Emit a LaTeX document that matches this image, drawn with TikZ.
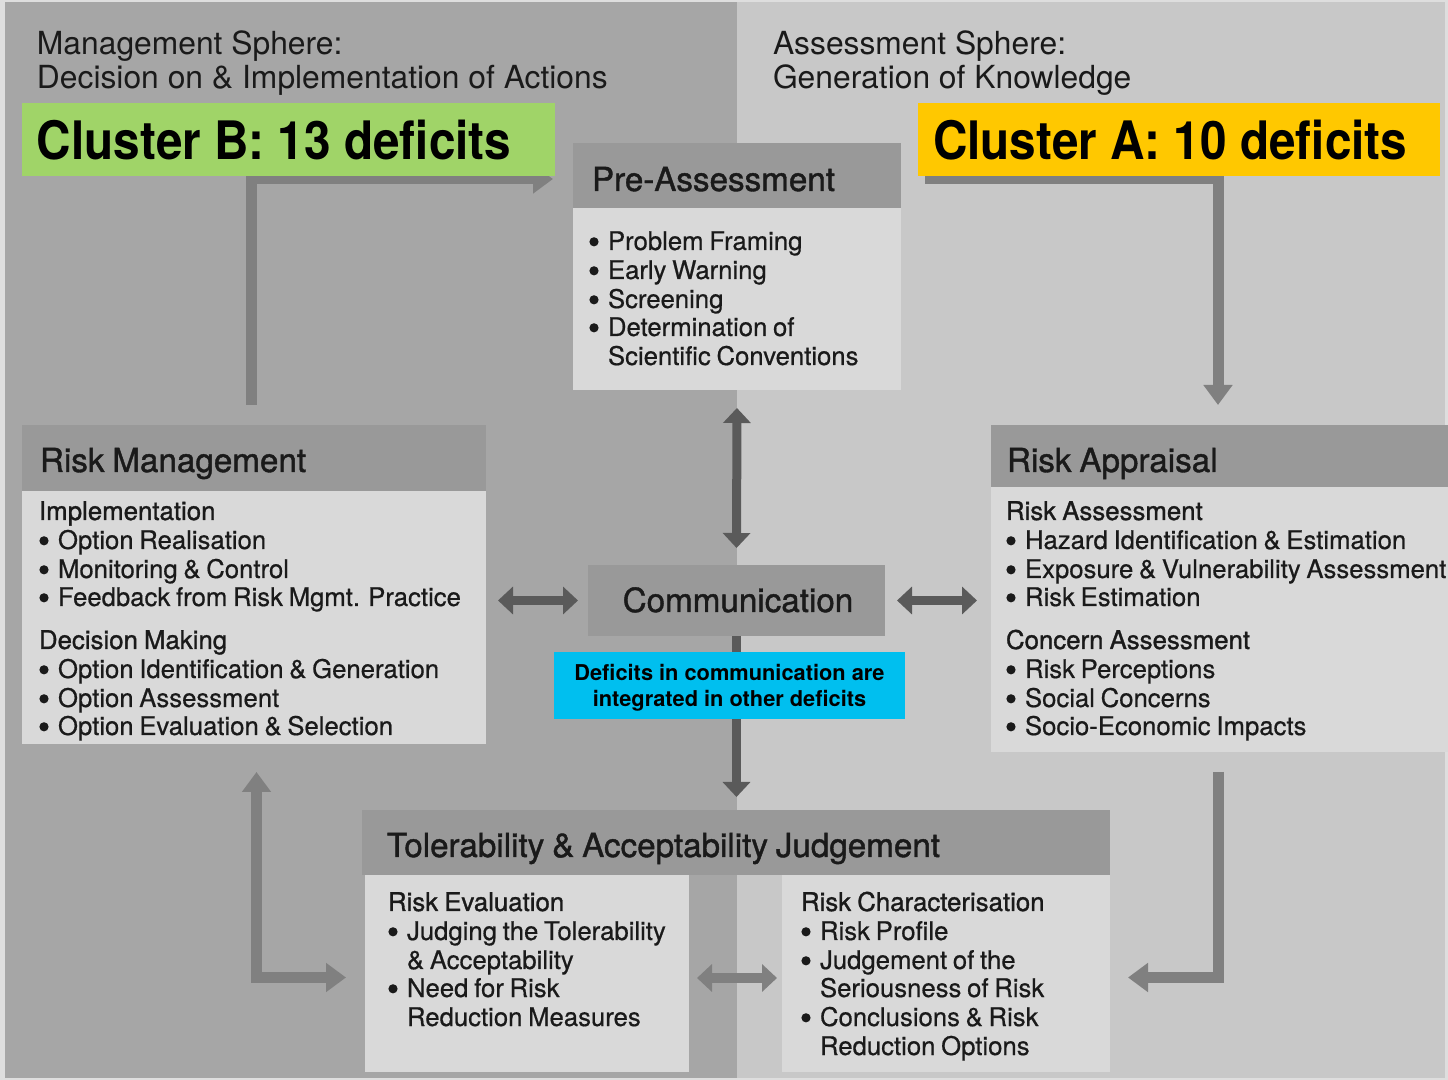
\documentclass[tikz,border=0pt]{standalone}
\usepackage{graphicx}
\usepackage{fontspec}
\setmainfont{TeX Gyre Heros}
\newfontfamily\hvbody{TeX Gyre Heros}[FakeBold=0.6, WordSpace=0.8]
\newfontfamily\hvmed{TeX Gyre Heros}[FakeBold=1.2, WordSpace=0.85]
\usetikzlibrary{arrows.meta}
\definecolor{bgL}{HTML}{A6A6A6}
\definecolor{bgR}{HTML}{C8C8C8}
\definecolor{edgec}{HTML}{DEDEDE}
\definecolor{hdr}{HTML}{999999}
\definecolor{bod}{HTML}{D9D9D9}
\definecolor{darkarr}{HTML}{5A5A5A}
\definecolor{lightarr}{HTML}{808080}
\definecolor{clB}{HTML}{A0D468}
\definecolor{clA}{HTML}{FFC800}
\definecolor{blu}{HTML}{00BFEF}
\definecolor{ink}{HTML}{1A1A1A}
\newcommand\fsph{\fontsize{15.9pt}{17pt}\selectfont}
\newcommand\fhd{\hvmed\fontsize{16.6pt}{18pt}\selectfont}
\newcommand\fbd{\hvbody\fontsize{12.85pt}{14.5pt}\selectfont}
\newcommand\fsec{\hvmed\fontsize{12.9pt}{14.5pt}\selectfont}
\newcommand\fcl{\bfseries\fontsize{26.5pt}{28pt}\selectfont}
\newcommand\fbl{\bfseries\fontsize{10.9pt}{13pt}\selectfont}
\tikzset{
  box/.style={inner sep=0pt, outer sep=0pt, anchor=north west},
  hbox/.style={box, fill=hdr},
  bbox/.style={box, fill=bod},
  txt/.style={anchor=base west, inner sep=0pt, outer sep=0pt, text=ink},
  dot/.style={fill=ink},
  darr/.style={draw=darkarr, line width=4.5pt, {Triangle[length=7.5pt,width=13.5pt]}-{Triangle[length=7.5pt,width=13.5pt]}},
  tarr/.style={draw=darkarr, line width=4.5pt, -{Triangle[length=7.5pt,width=13.5pt]}},
  larr/.style={draw=lightarr, line width=5.5pt, -{Triangle[length=10pt,width=14pt]}},
  lbarr/.style={draw=lightarr, line width=5.5pt, {Triangle[length=10pt,width=14pt]}-{Triangle[length=10pt,width=14pt]}},
  ldarr/.style={draw=lightarr, line width=4.5pt, {Triangle[length=7.5pt,width=13.5pt]}-{Triangle[length=7.5pt,width=13.5pt]}}
}
% list helper: #1 name prefix, #2 heading x, #3 item x, #4 list of y/kind/text
\newcommand\mylist[4]{%
  \foreach \yy/\k/\tx [count=\i] in {#4}{%
    \ifnum\k=0
      \node[txt, font=\fsec] (#1\i) at (#2,\yy) {\tx};
    \else
      \node[txt, font=\fbd] (#1\i) at (#3,\yy) {\tx};
    \fi
    \ifnum\k=1
      \fill[dot] ([xshift=-7pt,yshift=4.1pt]#1\i.base west) circle (2.3pt);
    \fi
  }%
}
\begin{document}
\begin{tikzpicture}[x=0.5pt,y=-0.5pt]
\useasboundingbox (0,0) rectangle (1448,1080);
\fill[edgec] (0,0) rectangle (1448,1080);
\fill[bgL] (5,2) rectangle (737,1078);
\fill[bgR] (737,2) rectangle (1445,1078);

% sphere labels
\node[txt, font=\fsph] (msph1) at (37,55) {Management Sphere:};
\node[txt, font=\fsph] (msph2) at (37,89) {Decision on \& Implementation of Actions};
\node[txt, font=\fsph] (asph1) at (773,55) {Assessment Sphere:};
\node[txt, font=\fsph] (asph2) at (773,89) {Generation of Knowledge};

% loop arrows (behind boxes)
\coordinate (tlA) at (251,405);
\coordinate (tlB) at (553,179);
\draw[larr] (tlA) |- (tlB);
\coordinate (trA) at (925,179);
\coordinate (trB) at (1218,405);
\draw[larr] (trA) -| (trB);
\coordinate (blA) at (256.5,772);
\coordinate (blB) at (346,977.5);
\draw[lbarr] (blA) |- (blB);
\coordinate (brA) at (1218,772);
\coordinate (brB) at (1128,977.5);
\draw[larr] (brA) |- (brB);

% boxes
\node[hbox, minimum width=164pt, minimum height=32.5pt] (pah) at (573,143) {};
\node[bbox, minimum width=164pt, minimum height=91pt] (pab) at (573,208) {};
\node[hbox, minimum width=232pt, minimum height=33pt] (rmh) at (22,425) {};
\node[bbox, minimum width=232pt, minimum height=126.5pt] (rmb) at (22,491) {};
\node[hbox, minimum width=228.5pt, minimum height=31pt] (rah) at (991,425) {};
\node[bbox, minimum width=228.5pt, minimum height=132.5pt] (rab) at (991,487) {};
\node[hbox, minimum width=374pt, minimum height=32.5pt] (tolh) at (362,810) {};
\node[bbox, minimum width=162pt, minimum height=98.5pt] (toll) at (365,875) {};
\node[bbox, minimum width=164pt, minimum height=98.5pt] (tolr) at (782,875) {};
\node[hbox, minimum width=148.5pt, minimum height=35.5pt] (comm) at (588,565) {};
\node[txt, font=\fhd, anchor=base] (commT) at (738,612) {Communication};

% central arrows
\draw[darr, shorten <=9pt, shorten >=8.5pt] (pab.south) -- (comm.north);
\draw[darr, shorten <=5pt, shorten >=6pt] (comm.west) -- (comm.west -| rmb.east);
\draw[darr, shorten <=6pt, shorten >=7pt] (comm.east) -- (comm.east -| rab.west);
\draw[tarr, shorten >=6.5pt] (comm.south) -- (comm.south |- tolh.north);
\coordinate (tdA) at (697,978);
\coordinate (tdB) at (777,978);
\draw[ldarr] (tdA) -- (tdB);

% blue note
\node[box, fill=blu, minimum width=175.5pt, minimum height=33.5pt] (blue) at (554,652) {};
\node[font=\fbl, align=center, text=black, inner sep=0pt] (bluet) at ([yshift=-1pt]blue.center) {Deficits in communication are\\integrated in other deficits};

% cluster labels
\node[box, fill=clB, minimum width=266.5pt, minimum height=36.5pt] (clb) at (22,103) {};
\node[txt, font=\fcl, text=black] (clbt) at (37,160) {\scalebox{0.9}[1]{Cluster B: 13 deficits}};
\node[box, fill=clA, minimum width=261pt, minimum height=36.5pt] (cla) at (918,103) {};
\node[txt, font=\fcl, text=black] (clat) at (933,160) {\scalebox{0.9}[1]{Cluster A: 10 deficits}};

% headers
\node[txt, font=\fhd] (pahT) at (592,191) {Pre-Assessment};
\node[txt, font=\fhd] (rmhT) at (40,472) {Risk Management};
\node[txt, font=\fhd] (rahT) at (1007,472) {Risk Appraisal};
\node[txt, font=\fhd] (tolhT) at (387,857) {Tolerability \& Acceptability Judgement};

% lists (kind: 0 heading, 1 bullet item, 2 continuation)
\mylist{pat}{589}{608}{250/1/{Problem Framing}, 279/1/{Early Warning}, 308/1/{Screening}, 336/1/{Determination of}, 365/2/{Scientific Conventions}}
\mylist{rmt}{39}{58}{520/0/{Implementation}, 549/1/{Option Realisation}, 578/1/{Monitoring \& Control}, 606/1/{Feedback from Risk Mgmt. Practice}, 649/0/{Decision Making}, 678/1/{Option Identification \& Generation}, 707/1/{Option Assessment}, 735/1/{Option Evaluation \& Selection}}
\mylist{rat}{1006}{1025}{520/0/{Risk Assessment}, 549/1/{Hazard Identification \& Estimation}, 578/1/{Exposure \& Vulnerability Assessment}, 606/1/{Risk Estimation}, 649/0/{Concern Assessment}, 678/1/{Risk Perceptions}, 707/1/{Social Concerns}, 735/1/{Socio-Economic Impacts}}
\mylist{tlt}{388}{407}{911/0/{Risk Evaluation}, 940/1/{Judging the Tolerability}, 969/2/{\& Acceptability}, 997/1/{Need for Risk}, 1026/2/{Reduction Measures}}
\mylist{trt}{801}{820}{911/0/{Risk Characterisation}, 940/1/{Risk Profile}, 969/1/{Judgement of the}, 997/2/{Seriousness of Risk}, 1026/1/{Conclusions \& Risk}, 1055/2/{Reduction Options}}
\end{tikzpicture}
\end{document}
